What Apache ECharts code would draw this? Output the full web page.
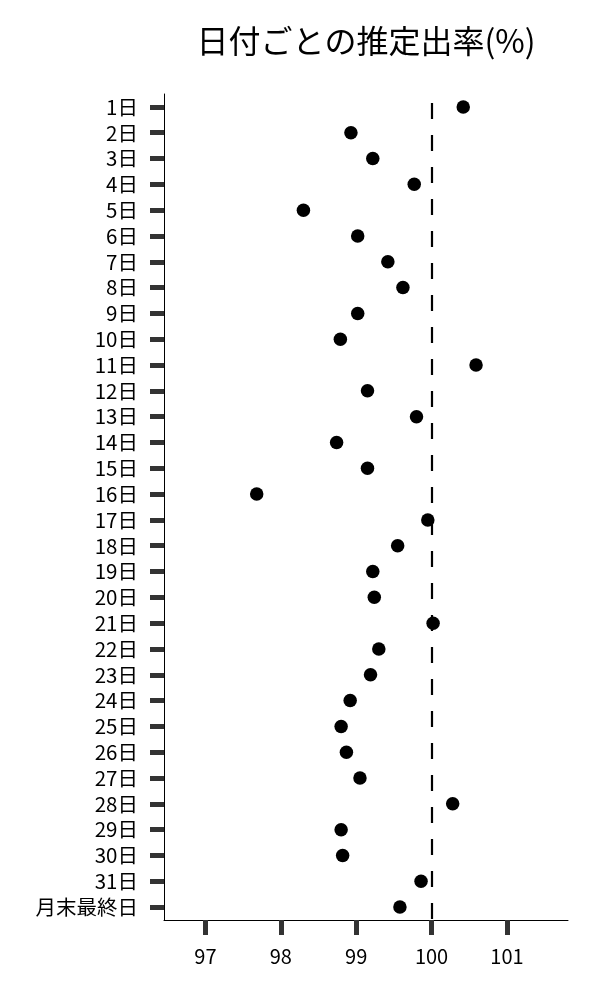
<!DOCTYPE html>
<html>
<head>
    <meta charset="UTF-8">
    <title>日付ごとの推定出率</title>
    <script src="https://cdn.jsdelivr.net/npm/echarts@6/dist/echarts.min.js"></script>
    <style>body{margin:0;background:#fff;}</style>
</head>
<body>
<div id="main" style="width:600px;height:1000px"></div>
<script type="text/javascript">
    // カテゴリ (上から順)
    var days = ['1日','2日','3日','4日','5日','6日','7日','8日','9日','10日',
        '11日','12日','13日','14日','15日','16日','17日','18日','19日','20日',
        '21日','22日','23日','24日','25日','26日','27日','28日','29日','30日',
        '31日','月末最終日'];
    // 推定出率(%)
    var rates = [100.42, 98.93, 99.22, 99.77, 98.30, 99.02, 99.42, 99.62, 99.02, 98.79,
        100.59, 99.15, 99.80, 98.74, 99.15, 97.68, 99.95, 99.55, 99.22, 99.24,
        100.02, 99.30, 99.19, 98.92, 98.80, 98.87, 99.05, 100.28, 98.80, 98.82,
        99.86, 99.58];
    var xTicks = [97, 98, 99, 100, 101];
    var refLine = 100;

    var font = '"Noto Sans CJK JP", "Noto Sans", sans-serif';
    var myChart = echarts.init(document.getElementById('main'));
    var option = {
        animation: false,
        title: {
            text: '日付ごとの推定出率(%)',
            left: 361,
            textAlign: 'center',
            top: 20,
            textStyle: {fontFamily: font, fontSize: 32, fontWeight: 'normal', color: '#000'}
        },
        grid: {left: 164, top: 94, width: 404, height: 826},
        xAxis: {
            type: 'value',
            min: 96.45,
            max: 101.81,
            splitLine: {show: false},
            axisLine: {show: true, lineStyle: {color: '#000', width: 1}},
            axisTick: {show: true, customValues: xTicks, length: 15, lineStyle: {color: '#333', width: 5}},
            axisLabel: {customValues: xTicks, margin: 26, fontFamily: font, fontSize: 20, color: '#000'}
        },
        yAxis: {
            type: 'category',
            data: days,
            inverse: true,
            axisLine: {show: true, lineStyle: {color: '#000', width: 1}},
            axisTick: {show: true, interval: 0, alignWithLabel: true, length: 14, lineStyle: {color: '#333', width: 5}},
            axisLabel: {interval: 0, margin: 26, fontFamily: font, fontSize: 20.5, color: '#000'}
        },
        series: [{
            type: 'scatter',
            data: rates.map(function (v, i) { return [v, days[i]]; }),
            symbolSize: 13.5,
            itemStyle: {color: '#000', opacity: 1},
            markLine: {
                silent: true,
                symbol: 'none',
                label: {show: false},
                lineStyle: {color: '#000', width: 2.2, type: [16, 16], dashOffset: 23},
                data: [{xAxis: refLine}]
            }
        }]
    };
    myChart.setOption(option);
</script>
</body>
</html>
